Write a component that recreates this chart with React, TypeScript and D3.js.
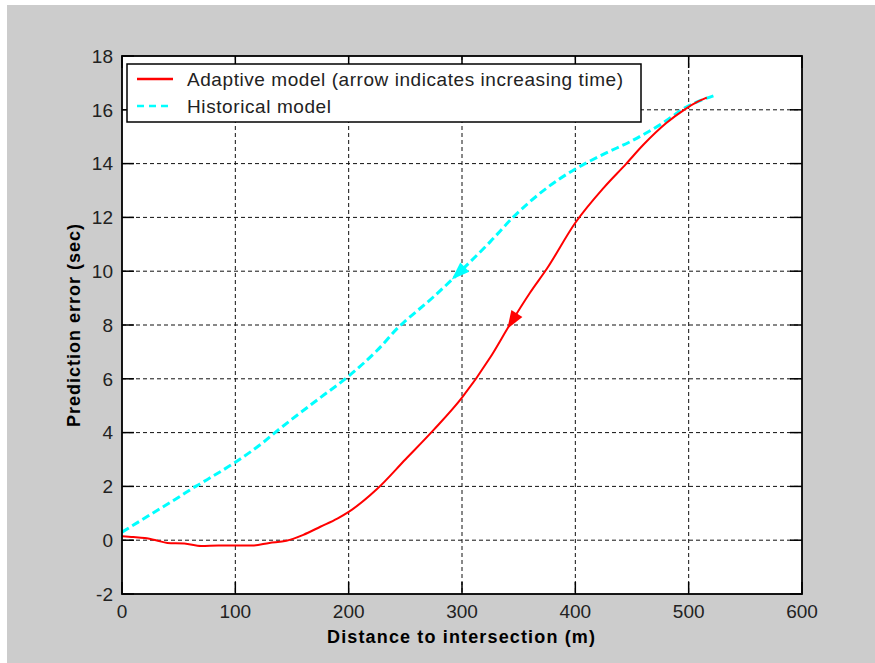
import * as d3 from 'd3'

// Axis ticks
const xTicks = [0, 100, 200, 300, 400, 500, 600]
const yTicks = [-2, 0, 2, 4, 6, 8, 10, 12, 14, 16, 18]

// Adaptive model (red, solid)
const adaptiveX = [0, 10, 20, 30, 40, 55, 70, 85, 100, 115, 130, 145, 160, 175, 190, 200, 225, 250, 275, 300, 325, 342, 360, 375, 400, 425, 445, 460, 480, 496, 508, 516]
const adaptiveY = [0.15, 0.12, 0.08, 0.0, -0.1, -0.12, -0.22, -0.2, -0.2, -0.2, -0.1, -0.02, 0.2, 0.5, 0.8, 1.05, 1.9, 3.0, 4.1, 5.3, 6.8, 8.0, 9.2, 10.1, 11.8, 13.1, 14.0, 14.7, 15.5, 16.0, 16.3, 16.45]

// Historical model (cyan, dashed)
const historicalX = [0, 25, 50, 65, 75, 100, 125, 135, 150, 175, 200, 225, 246, 250, 275, 300, 325, 345, 375, 400, 425, 450, 475, 500, 524]
const historicalY = [0.3, 0.95, 1.6, 2.0, 2.25, 2.9, 3.65, 4.0, 4.5, 5.3, 6.1, 7.05, 8.0, 8.15, 9.05, 10.05, 11.1, 12.0, 13.1, 13.8, 14.35, 14.85, 15.45, 16.15, 16.55]

// Arrow positions (x value of the arrow tip)
const historicalArrowX = 291
const adaptiveArrowX = 340

const legendLabels = ['Adaptive model (arrow indicates increasing time)', 'Historical model']

const width = 875
const height = 663
const left = 122
const right = 802
const top = 56
const bottom = 594
const font = '"Liberation Sans", Arial, Helvetica, sans-serif'

const x = d3.scaleLinear().domain([0, 600]).range([left, right])
const y = d3.scaleLinear().domain([-2, 18]).range([bottom, top])

const line = d3
  .line<[number, number]>()
  .x(d => x(d[0]))
  .y(d => y(d[1]))
  .curve(d3.curveMonotoneX)

function interp(xs: number[], ys: number[], v: number): number {
  const i = Math.max(1, Math.min(xs.length - 1, d3.bisectLeft(xs, v)))
  const t = (v - xs[i - 1]) / (xs[i] - xs[i - 1])
  return ys[i - 1] + t * (ys[i] - ys[i - 1])
}

function arrowPath(xs: number[], ys: number[], v: number): string {
  const tx = x(v)
  const ty = y(interp(xs, ys, v))
  const bx = x(v + 12)
  const by = y(interp(xs, ys, v + 12))
  let dx = bx - tx
  let dy = by - ty
  const len = Math.hypot(dx, dy)
  dx /= len
  dy /= len
  const L = 18
  const W = 6.5
  const cx = tx + dx * L
  const cy = ty + dy * L
  return `M${tx},${ty}L${cx - dy * W},${cy + dx * W}L${cx + dy * W},${cy - dx * W}Z`
}

export default function App() {
  const adaptive = adaptiveX.map((v, i) => [v, adaptiveY[i]] as [number, number])
  const historical = historicalX.map((v, i) => [v, historicalY[i]] as [number, number])

  return (
    <svg
      width={width}
      height={height}
      style={{ position: 'absolute', left: 0, top: 0, fontFamily: font }}
    >
      <rect x={0} y={0} width={width} height={height} fill="#fff" />
      <rect x={7} y={5} width={width - 7} height={height - 5} fill="#cccccc" />
      <rect x={left} y={top} width={right - left} height={bottom - top} fill="#fff" />

      {/* grid */}
      {xTicks.slice(1, -1).map(t => (
        <line key={'gx' + t} x1={x(t)} x2={x(t)} y1={top} y2={bottom} stroke="#111" strokeDasharray="4,3" />
      ))}
      {yTicks.slice(1, -1).map(t => (
        <line key={'gy' + t} x1={left} x2={right} y1={y(t)} y2={y(t)} stroke="#111" strokeDasharray="4,3" />
      ))}

      {/* ticks */}
      {xTicks.map(t => (
        <g key={'tx' + t}>
          <line x1={x(t)} x2={x(t)} y1={bottom} y2={bottom - 12} stroke="#000" strokeWidth={1.5} />
          <line x1={x(t)} x2={x(t)} y1={top} y2={top + 12} stroke="#000" strokeWidth={1.5} />
          <text x={x(t)} y={bottom + 24} textAnchor="middle" fontSize={19} fill="#222">{t}</text>
        </g>
      ))}
      {yTicks.map(t => (
        <g key={'ty' + t}>
          <line x1={left} x2={left + 12} y1={y(t)} y2={y(t)} stroke="#000" strokeWidth={1.5} />
          <line x1={right} x2={right - 12} y1={y(t)} y2={y(t)} stroke="#000" strokeWidth={1.5} />
          <text x={left - 9} y={y(t)} dy="0.36em" textAnchor="end" fontSize={19} fill="#222">{t}</text>
        </g>
      ))}

      {/* series */}
      <path d={line(historical) ?? ''} fill="none" stroke="#00ffff" strokeWidth={3} strokeDasharray="8,4" />
      <path d={line(adaptive) ?? ''} fill="none" stroke="#ff0000" strokeWidth={2} />
      <path d={arrowPath(historicalX, historicalY, historicalArrowX)} fill="#00ffff" />
      <path d={arrowPath(adaptiveX, adaptiveY, adaptiveArrowX)} fill="#ff0000" />

      {/* axes box */}
      <rect x={left} y={top} width={right - left} height={bottom - top} fill="none" stroke="#000" strokeWidth={1.8} />

      {/* legend */}
      <rect x={127} y={64} width={514} height={58} fill="#fff" stroke="#000" strokeWidth={1.5} />
      <line x1={137} x2={173} y1={79} y2={79} stroke="#ff0000" strokeWidth={2.5} />
      <line x1={137} x2={173} y1={106} y2={106} stroke="#00ffff" strokeWidth={2.5} strokeDasharray="7,5" />
      <text x={187} y={79} dy="0.36em" fontSize={19} fill="#222" textLength={436} lengthAdjust="spacing">{legendLabels[0]}</text>
      <text x={187} y={106} dy="0.36em" fontSize={19} fill="#222" textLength={144} lengthAdjust="spacing">{legendLabels[1]}</text>

      {/* titles */}
      <text x={327} y={643} fontSize={18} fontWeight="bold" fill="#000" textLength={268} lengthAdjust="spacing">
        Distance to intersection (m)
      </text>
      <text
        transform={`translate(80,${(top + bottom) / 2}) rotate(-90)`}
        x={-102}
        fontSize={18}
        fontWeight="bold"
        fill="#000"
        textLength={203}
        lengthAdjust="spacing"
      >
        Prediction error (sec)
      </text>
    </svg>
  )
}
